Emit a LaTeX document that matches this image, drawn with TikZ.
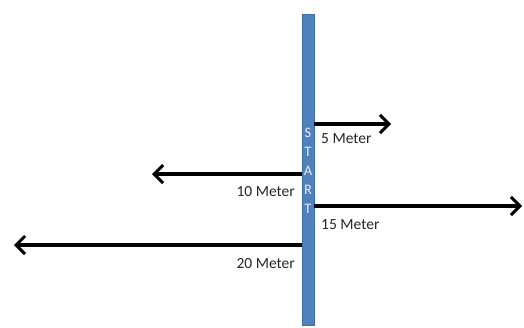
\documentclass[tikz,border=0pt]{standalone}
\usepackage{fontspec}
\setmainfont{Carlito}
\usetikzlibrary{arrows.meta}
\definecolor{barblue}{HTML}{4F81BD}
\definecolor{barline}{HTML}{3A6EA5}
\definecolor{lettercol}{HTML}{E4ECF6}
\begin{document}
\begin{tikzpicture}[x=1pt,y=-1pt,
  arr/.style={line width=3.4pt,-{Straight Barb[length=9pt,width=18pt,line width=3pt]}},
  lbl/.style={font=\fontsize{15.5}{18}\selectfont,inner sep=0pt,text=black!85}]
\useasboundingbox (0,0) rectangle (524,327);
\node[draw=barline,fill=barblue,line width=0.6pt,minimum width=12pt,minimum height=311pt,inner sep=0pt] (bar) at (308,169.5) {};
\node[text=lettercol,font=\fontsize{14.5}{19}\selectfont,align=center,inner sep=0pt] (start) at (308,171) {S\\T\\A\\R\\T};
\coordinate (t5) at (391,124);
\coordinate (t10) at (152,174);
\coordinate (t15) at (522,206);
\coordinate (t20) at (14,245);
\draw[arr] (bar.east |- t5) -- (t5);
\draw[arr] (bar.west |- t10) -- (t10);
\draw[arr] (bar.east |- t15) -- (t15);
\draw[arr] (bar.west |- t20) -- (t20);
\node[lbl,anchor=west] (l5) at (321,139) {5 Meter};
\node[lbl,anchor=east] (l10) at (295,192) {10 Meter};
\node[lbl,anchor=west] (l15) at (321,225) {15 Meter};
\node[lbl,anchor=east] (l20) at (295,264) {20 Meter};
\end{tikzpicture}
\end{document}
